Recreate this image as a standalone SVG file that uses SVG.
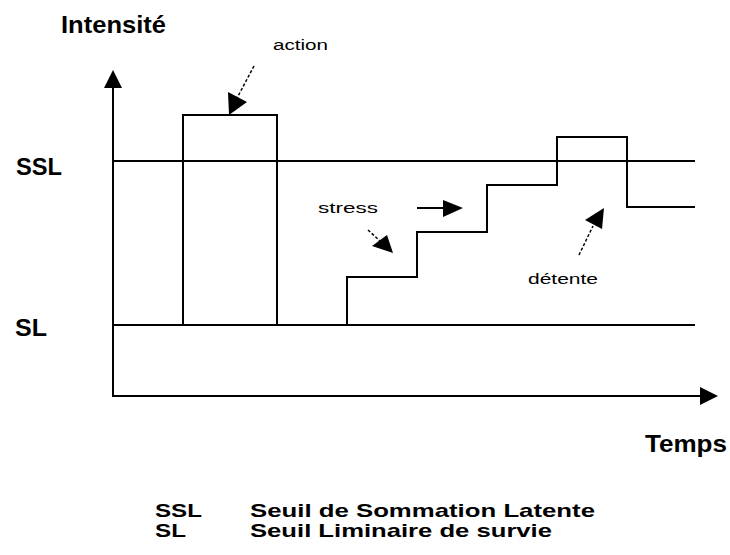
<svg xmlns="http://www.w3.org/2000/svg" width="730" height="555" viewBox="0 0 730 555">
<style>
.ln{stroke:#000;stroke-width:2;fill:none}
.ds{stroke:#000;stroke-width:1.5;fill:none;stroke-dasharray:3 2}
.hd{fill:#000;stroke:none}
.big{font-family:"Liberation Sans",Arial,sans-serif;font-weight:bold;font-size:24px;fill:#000}
.leg{font-family:"Liberation Sans",Arial,sans-serif;font-weight:bold;font-size:19px;fill:#000}
.sm{font-family:"Liberation Sans",Arial,sans-serif;font-size:14px;fill:#000}
</style>
<rect width="730" height="555" fill="#fff"/>
<g id="axes">
<path class="ln" d="M113,86 V396 H702"/>
<polygon class="hd" points="113,70 104,88 122,88"/>
<polygon class="hd" points="718,396 700,387 700,405"/>
<text class="big" x="61" y="33" textLength="105" lengthAdjust="spacingAndGlyphs">Intensité</text>
<text class="big" x="645" y="452" textLength="82" lengthAdjust="spacingAndGlyphs">Temps</text>
</g>
<g id="thresholds">
<line class="ln" x1="113" y1="161" x2="695" y2="161"/>
<line class="ln" x1="113" y1="325" x2="695" y2="325"/>
<text class="big" x="16" y="175" textLength="46" lengthAdjust="spacingAndGlyphs">SSL</text>
<text class="big" x="15" y="336" textLength="32" lengthAdjust="spacingAndGlyphs">SL</text>
</g>
<g id="action">
<path class="ln" d="M183,325 V115 H277 V325"/>
<text class="sm" x="273" y="50" textLength="55" lengthAdjust="spacingAndGlyphs">action</text>
</g>
<g id="stress">
<path class="ln" d="M347,325 V277 H417 V232 H487 V185 H557 V137 H627 V207 H695"/>
<text class="sm" x="318" y="213" textLength="60" lengthAdjust="spacingAndGlyphs">stress</text>
<text class="sm" x="528" y="284" textLength="70" lengthAdjust="spacingAndGlyphs">détente</text>
</g>
<g id="connectors">
<line class="ds" x1="254" y1="66" x2="236" y2="100"/>
<polygon class="hd" points="229,115 228,92 247,102"/>
<line class="ln" x1="417" y1="208" x2="446" y2="208"/>
<polygon class="hd" points="463,208 443,200 443,217"/>
<line class="ds" x1="368" y1="230" x2="380" y2="241"/>
<polygon class="hd" points="393,253 372,246 387,235"/>
<line class="ds" x1="579" y1="255" x2="593" y2="226"/>
<polygon class="hd" points="604,208 585,220 602,229"/>
</g>
<g id="legend">
<text class="leg" x="155" y="517" textLength="47" lengthAdjust="spacingAndGlyphs">SSL</text>
<text class="leg" x="250" y="517" textLength="345" lengthAdjust="spacingAndGlyphs">Seuil de Sommation Latente</text>
<text class="leg" x="155" y="537" textLength="31" lengthAdjust="spacingAndGlyphs">SL</text>
<text class="leg" x="250" y="537" textLength="302" lengthAdjust="spacingAndGlyphs">Seuil Liminaire de survie</text>
</g>
</svg>
